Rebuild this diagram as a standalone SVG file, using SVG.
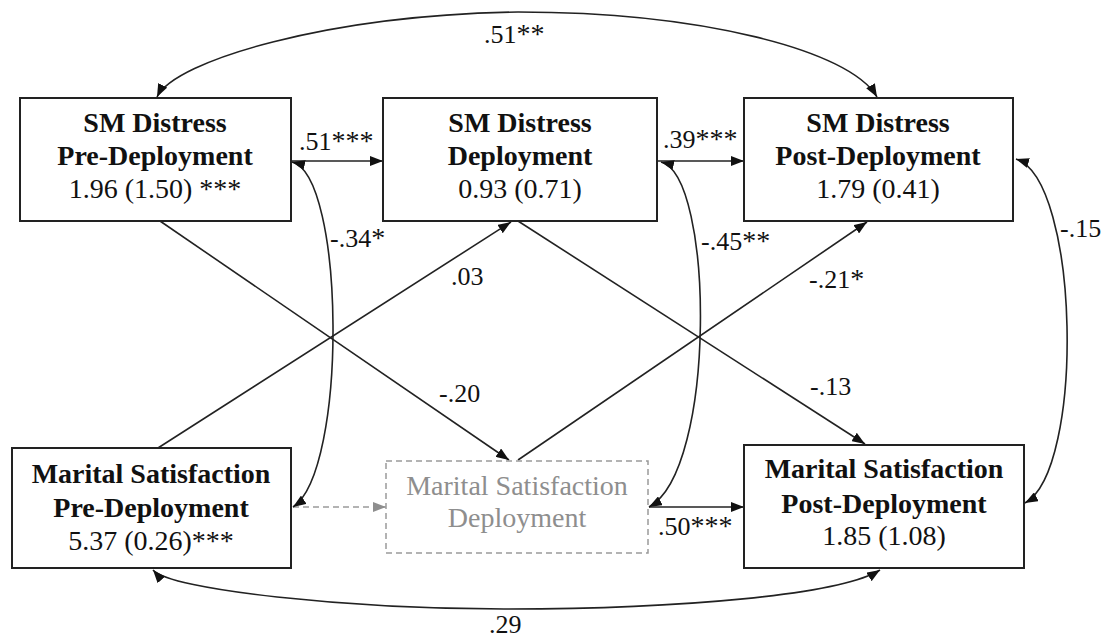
<svg xmlns="http://www.w3.org/2000/svg" width="1113" height="639" viewBox="0 0 1113 639">
<style>
  .box { fill: #fff; stroke: #222; stroke-width: 2; }
  .dbox { fill: #fff; stroke: #9a9a9a; stroke-width: 1.5; stroke-dasharray: 6 4; }
  text { font-family: 'Liberation Serif', Tinos, 'Times New Roman', Times, 'Noto Serif', 'DejaVu Serif', serif; }
  .t { font-size: 28px; fill: #111; text-anchor: middle; }
  .b { font-weight: bold; }
  .g { fill: #8e8e8e; }
  .lbl { font-size: 26px; fill: #111; }
  .st { font-size: 28px; }
  .ln { fill: none; stroke: #222; stroke-width: 1.6; }
  .dash { fill: none; stroke: #9a9a9a; stroke-width: 1.6; stroke-dasharray: 6 4; }
</style>
<defs>
  <marker id="ah" viewBox="0 0 13 10" refX="13" refY="5" markerWidth="13" markerHeight="10" markerUnits="userSpaceOnUse" orient="auto-start-reverse">
    <path d="M0,0 L13,5 L0,10 z" fill="#111"/>
  </marker>
  <marker id="ahg" viewBox="0 0 13 10" refX="13" refY="5" markerWidth="13" markerHeight="10" markerUnits="userSpaceOnUse" orient="auto">
    <path d="M0,0 L13,5 L0,10 z" fill="#8e8e8e"/>
  </marker>
</defs>
<rect width="1113" height="639" fill="#fff"/>

<g id="connectors">
  <line class="ln" x1="291" y1="161" x2="383" y2="161" marker-end="url(#ah)"/>
  <line class="ln" x1="657" y1="161" x2="744" y2="161" marker-end="url(#ah)"/>
  <line class="ln" x1="649" y1="507" x2="744" y2="507" marker-end="url(#ah)"/>
  <line class="dash" x1="293" y1="507" x2="386" y2="507" marker-end="url(#ahg)"/>
  <line class="ln" x1="160" y1="221" x2="509" y2="460" marker-end="url(#ah)"/>
  <line class="ln" x1="158" y1="448" x2="511" y2="222" marker-end="url(#ah)"/>
  <line class="ln" x1="518" y1="221" x2="865" y2="444" marker-end="url(#ah)"/>
  <line class="ln" x1="518" y1="460" x2="867" y2="222" marker-end="url(#ah)"/>
  <path class="ln" d="M157,97 C175,60 330,15 518,12 C700,12 850,50 877,97" marker-start="url(#ah)" marker-end="url(#ah)"/>
  <path class="ln" d="M153,570 C170,590 350,609 504,609 C680,609 840,595 880,570" marker-start="url(#ah)" marker-end="url(#ah)"/>
  <path class="ln" d="M292,162 C345,175 348,470 293,507" marker-start="url(#ah)" marker-end="url(#ah)"/>
  <path class="ln" d="M661,162 C714,175 717,470 649,507" marker-start="url(#ah)" marker-end="url(#ah)"/>
  <path class="ln" d="M1016,159 C1080,180 1085,470 1025,503" marker-start="url(#ah)" marker-end="url(#ah)"/>
  <text class="lbl" x="484" y="43">.51<tspan class="st">**</tspan></text>
  <text class="lbl" x="299" y="150">.51<tspan class="st">***</tspan></text>
  <text class="lbl" x="663" y="148">.39<tspan class="st">***</tspan></text>
  <text class="lbl" x="330" y="247">-.34<tspan class="st">*</tspan></text>
  <text class="lbl" x="701" y="250">-.45<tspan class="st">**</tspan></text>
  <text class="lbl" x="1060" y="237">-.15</text>
  <text class="lbl" x="451" y="285">.03</text>
  <text class="lbl" x="809" y="288">-.21<tspan class="st">*</tspan></text>
  <text class="lbl" x="439" y="402">-.20</text>
  <text class="lbl" x="810" y="395">-.13</text>
  <text class="lbl" x="658" y="535">.50<tspan class="st">***</tspan></text>
  <text class="lbl" x="489" y="633">.29</text>
</g>

<g id="sm-pre">
  <rect class="box" x="20" y="98" width="271" height="123"/>
  <text class="t b" x="155" y="132">SM Distress</text>
  <text class="t b" x="155" y="165">Pre-Deployment</text>
  <text class="t" x="155" y="198">1.96 (1.50) ***</text>
</g>
<g id="sm-dep">
  <rect class="box" x="383" y="98" width="274" height="123"/>
  <text class="t b" x="520" y="132">SM Distress</text>
  <text class="t b" x="520" y="165">Deployment</text>
  <text class="t" x="520" y="198">0.93 (0.71)</text>
</g>
<g id="sm-post">
  <rect class="box" x="744" y="98" width="269" height="123"/>
  <text class="t b" x="878" y="132">SM Distress</text>
  <text class="t b" x="878" y="165">Post-Deployment</text>
  <text class="t" x="878" y="198">1.79 (0.41)</text>
</g>
<g id="ms-pre">
  <rect class="box" x="12" y="448" width="279" height="120"/>
  <text class="t b" x="151" y="483">Marital Satisfaction</text>
  <text class="t b" x="151" y="517">Pre-Deployment</text>
  <text class="t" x="151" y="550">5.37 (0.26)***</text>
</g>
<g id="ms-dep">
  <rect class="dbox" x="386" y="461" width="262" height="92"/>
  <text class="t g" x="517" y="495">Marital Satisfaction</text>
  <text class="t g" x="517" y="527">Deployment</text>
</g>
<g id="ms-post">
  <rect class="box" x="744" y="445" width="280" height="123"/>
  <text class="t b" x="884" y="478">Marital Satisfaction</text>
  <text class="t b" x="884" y="513">Post-Deployment</text>
  <text class="t" x="884" y="545">1.85 (1.08)</text>
</g>
</svg>
